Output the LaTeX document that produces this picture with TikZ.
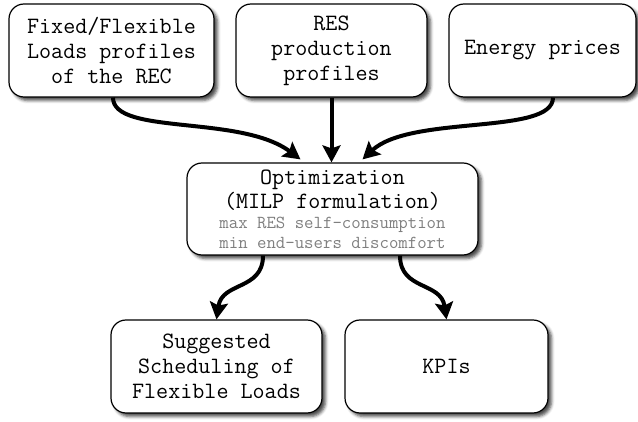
\documentclass[tikz,border=0pt]{standalone}
\usepackage{fontspec}
\usetikzlibrary{arrows.meta,shadows.blur}
\definecolor{subtext}{HTML}{7F7F7F}
\newcommand{\subline}{\fontsize{18.3}{19}\selectfont\color{subtext}}
\tikzset{
  box/.style={draw=black, line width=1.2pt, rounded corners=15pt, fill=white,
    align=center, inner sep=0pt, text=black,
    font=\ttfamily\fontsize{23.4}{25}\selectfont,
    blur shadow={shadow xshift=3.5pt, shadow yshift=-3.5pt,
      shadow blur radius=3pt, shadow opacity=70}},
  flow/.style={line width=4pt, -{Stealth[length=17pt,width=18pt,inset=3pt]}},
}
\begin{document}
\begin{tikzpicture}[x=1pt,y=1pt]
\useasboundingbox (0,0) rectangle (638,-422);

% inputs
\node[box, minimum width=205pt, minimum height=93pt] (loads) at (111.5,-50.5)
  {Fixed/Flexible\\Loads profiles\\of the REC};
\node[box, minimum width=191pt, minimum height=93pt] (res) at (331.5,-50.5)
  {RES\\production\\profiles};
\node[box, minimum width=187pt, minimum height=93pt] (prices) at (542.5,-50.5)
  {Energy prices};

% optimisation core
\node[box, minimum width=291pt, minimum height=92pt] (opt) at (332.5,-209)
  {Optimization\\[-1pt]
   (MILP formulation)\\[-5pt]
   \subline max RES self-consumption\\[-5pt]
   \subline min end-users discomfort};

% outputs
\node[box, minimum width=211pt, minimum height=93pt] (sched) at (216.5,-366.5)
  {Suggested\\Scheduling of\\Flexible Loads};
\node[box, minimum width=203pt, minimum height=93pt] (kpi) at (446.5,-366.5)
  {KPIs};

% connectors into the optimisation
\draw[flow] ([xshift=1.5pt]loads.south) .. controls ([xshift=1.5pt,yshift=-38pt]loads.south) and ([xshift=-92pt,yshift=48pt]opt.north) .. ([xshift=-32pt,yshift=3pt]opt.north);
\draw[flow] (res.south) -- (res.south |- opt.north);
\draw[flow] ([xshift=10.5pt]prices.south) .. controls ([xshift=10.5pt,yshift=-38pt]prices.south) and ([xshift=78pt,yshift=48pt]opt.north) .. ([xshift=30pt,yshift=3pt]opt.north);

% connectors out of the optimisation
\draw[flow] ([xshift=-69.5pt]opt.south) .. controls ([xshift=-69.5pt,yshift=-35pt]opt.south) and ([xshift=5.5pt,yshift=38pt]sched.north) .. (sched.north);
\draw[flow] ([xshift=67.5pt]opt.south) .. controls ([xshift=67.5pt,yshift=-35pt]opt.south) and ([xshift=-5.5pt,yshift=38pt]kpi.north) .. (kpi.north);
\end{tikzpicture}
\end{document}
